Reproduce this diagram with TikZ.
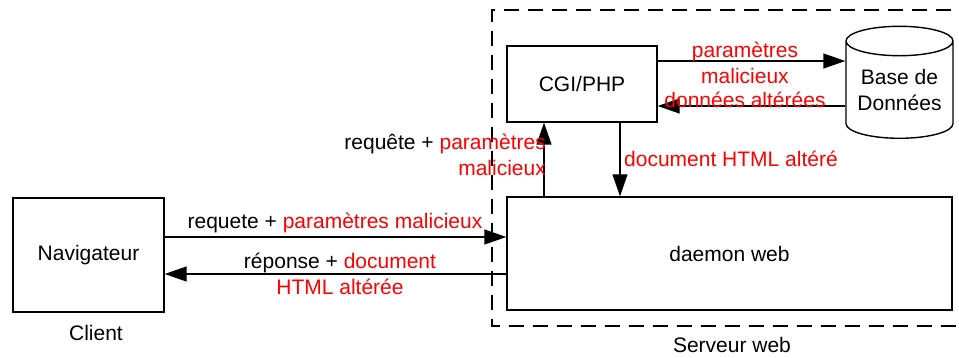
\documentclass[tikz,border=0pt]{standalone}
\usepackage{fontspec}
\setmainfont{Liberation Sans}
\usetikzlibrary{arrows.meta,shapes.geometric}
\definecolor{lblred}{RGB}{255,0,0}
\tikzset{
  box/.style={draw, line width=1.4pt, inner sep=0pt},
  arr/.style={line width=1.4pt, -{Triangle[length=22pt,width=15pt]}},
  lbl/.style={inner sep=0pt, font=\fontsize{21}{26}\selectfont},
  red/.style={lbl, text=lblred},
  frame/.style={line width=1.4pt, dash pattern=on 15pt off 9pt}
}
\begin{document}
\begin{tikzpicture}[x=1pt,y=-1pt]
\useasboundingbox (0,0) rectangle (959,358);
\draw[frame] (975,10) -| (492,326) -- (975,326);
\node[box, minimum width=150pt, minimum height=76pt, lbl] (cgi) at (582,84) {CGI/PHP};
\node[draw, line width=1.4pt, cylinder, shape border rotate=90, aspect=0.35, minimum width=107pt, minimum height=112pt, inner sep=0pt, lbl, align=center] (db) at (899.5,90) {Base de\\Données};
\node[box, minimum width=445pt, minimum height=113pt, lbl] (daemon) at (729.5,253.5) {daemon web};
\node[box, minimum width=151pt, minimum height=114pt, lbl] (nav) at (88.5,255) {Navigateur};
\node[lbl] (client) at (96,333) {Client};
\node[lbl] (serveur) at (732,345) {Serveur web};
\draw[arr] ([yshift=23pt]cgi.east) -- ([yshift=23pt]cgi.east -| db.west);
\draw[arr] ([yshift=-22pt]cgi.east -| db.west) -- ([yshift=-22pt]cgi.east);
\draw[arr] ([xshift=-38pt]cgi.south |- daemon.north) -- ([xshift=-38pt]cgi.south);
\draw[arr] ([xshift=38pt]cgi.south) -- ([xshift=38pt]cgi.south |- daemon.north);
\draw[arr] ([yshift=18pt]nav.east) -- ([yshift=18pt]nav.east -| daemon.west);
\draw[arr] ([yshift=-19pt]nav.east -| daemon.west) -- ([yshift=-19pt]nav.east);
\node[red, align=center] (l1) at (745,63) {paramètres\\malicieux};
\node[red] (l2) at (745,100) {données altérées};
\node[red, anchor=west] (l3) at (624,159) {document HTML altéré};
\node[lbl, align=right, anchor=east] (l4) at (546,155) {requête + \textcolor{lblred}{paramètres}\\\textcolor{lblred}{malicieux}};
\node[lbl] (l5) at (335,223) {requete + \textcolor{lblred}{paramètres malicieux}};
\node[lbl, align=center] (l6) at (340,274) {réponse + \textcolor{lblred}{document}\\\textcolor{lblred}{HTML altérée}};
\end{tikzpicture}
\end{document}
